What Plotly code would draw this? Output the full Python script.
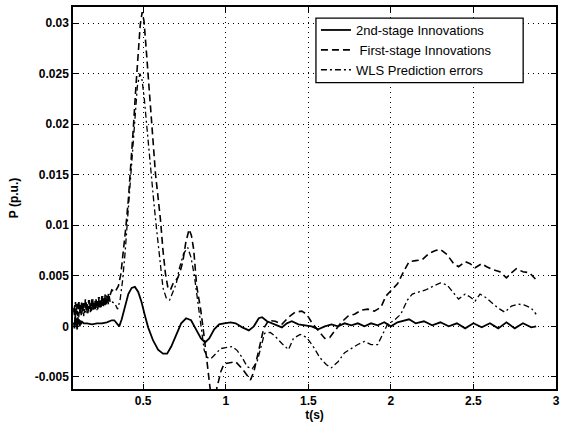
import plotly.graph_objects as go

# ---- data ----
t_solid = [0.080, 0.084, 0.088, 0.092, 0.096, 0.100, 0.104, 0.108, 0.112, 0.116, 0.120, 0.124, 0.128,
           0.14, 0.16, 0.19, 0.22, 0.25, 0.28, 0.31, 0.325, 0.34, 0.355, 0.37, 0.39, 0.41, 0.43, 0.45,
           0.47, 0.49, 0.51, 0.53, 0.56, 0.59, 0.62, 0.645, 0.67, 0.70, 0.73, 0.76, 0.79, 0.82, 0.85,
           0.875, 0.90, 0.93, 0.96, 0.99, 1.03, 1.06, 1.10, 1.14, 1.17, 1.20, 1.22, 1.25, 1.28, 1.31,
           1.34, 1.37, 1.40, 1.44, 1.48, 1.52, 1.56, 1.60, 1.64, 1.68, 1.72, 1.76, 1.80, 1.84, 1.88,
           1.92, 1.96, 2.00, 2.04, 2.08, 2.11, 2.15, 2.20, 2.25, 2.30, 2.35, 2.40, 2.45, 2.50, 2.55,
           2.60, 2.65, 2.70, 2.75, 2.80, 2.85, 2.88]
p_solid = [0.0004, -0.0002, 0.0010, 0.0001, 0.0008, -0.0003, 0.0009, 0.0002, 0.0007, 0.0000, 0.0006, 0.0002, 0.0005,
           0.0003, 0.0003, 0.0002, 0.0003, 0.0003, 0.0004, 0.0006, 0.0006, 0.0003, 0.0000, 0.0007, 0.0020, 0.0032, 0.0038, 0.0039,
           0.0034, 0.0024, 0.0011, -0.0001, -0.0014, -0.0023, -0.0027, -0.0027, -0.0020, -0.0008, 0.0003, 0.0008, 0.0006, -0.0003, -0.0012,
           -0.0016, -0.0012, -0.0003, 0.0002, 0.0003, 0.0004, 0.0003, -0.0001, -0.0004, 0.0000, 0.0008, 0.0009, 0.0005, 0.0003, 0.0001,
           -0.0001, 0.0003, 0.0005, 0.0002, 0.0001, 0.0000, -0.0003, 0.0000, 0.0002, 0.0000, 0.0003, 0.0001, 0.0003, 0.0000, 0.0003,
           0.0001, 0.0004, 0.0000, 0.0004, 0.0006, 0.0007, 0.0003, 0.0005, 0.0001, 0.0004, 0.0000, 0.0003, -0.0002, 0.0003, -0.0001,
           0.0003, -0.0002, 0.0004, -0.0002, 0.0003, -0.0001, 0.0000]

t_first = [0.080, 0.085, 0.090, 0.095, 0.100, 0.105, 0.110, 0.115, 0.120, 0.125,
           0.130, 0.135, 0.140, 0.145, 0.150, 0.155, 0.160, 0.165, 0.170, 0.175,
           0.180, 0.185, 0.190, 0.195, 0.200, 0.205, 0.210, 0.215, 0.220, 0.225,
           0.230, 0.235, 0.240, 0.245, 0.250, 0.255, 0.260, 0.265, 0.270, 0.275,
           0.280, 0.285, 0.290, 0.295, 0.300,
           0.31, 0.33, 0.35, 0.365, 0.38, 0.395, 0.41, 0.425, 0.44, 0.455, 0.47, 0.482, 0.494, 0.505,
           0.518, 0.53, 0.545, 0.56, 0.575, 0.59, 0.605, 0.62, 0.635, 0.65, 0.665, 0.68, 0.695, 0.71,
           0.725, 0.74, 0.758, 0.778, 0.792, 0.806, 0.824, 0.848, 0.866, 0.88, 0.896, 0.91, 0.93, 0.95,
           0.97, 0.99, 1.02, 1.06, 1.10, 1.13, 1.15, 1.17, 1.20, 1.23, 1.26, 1.30, 1.34, 1.38, 1.42,
           1.46, 1.49, 1.52, 1.56, 1.60, 1.63, 1.66, 1.70, 1.74, 1.78, 1.82, 1.86, 1.90, 1.94, 1.97,
           2.00, 2.04, 2.08, 2.11, 2.15, 2.19, 2.23, 2.27, 2.30, 2.34, 2.38, 2.41, 2.45, 2.48, 2.51,
           2.55, 2.58, 2.62, 2.66, 2.70, 2.73, 2.76, 2.80, 2.84, 2.88]
p_first = [0.0018, 0.0009, 0.0024, 0.0012, 0.0022, 0.0010, 0.0026, 0.0014, 0.0021, 0.0011,
           0.0025, 0.0015, 0.0023, 0.0013, 0.0027, 0.0016, 0.0022, 0.0013, 0.0026, 0.0017,
           0.0024, 0.0015, 0.0028, 0.0018, 0.0023, 0.0016, 0.0027, 0.0018, 0.0025, 0.0017,
           0.0029, 0.0019, 0.0027, 0.0019, 0.0030, 0.0021, 0.0028, 0.0021, 0.0032, 0.0023,
           0.0030, 0.0023, 0.0033, 0.0025, 0.0031,
           0.0036, 0.0034, 0.0040, 0.0052, 0.0072, 0.0098, 0.0125, 0.0158, 0.0195, 0.0235, 0.0272, 0.0298, 0.0311, 0.0302,
           0.0275, 0.0250, 0.0215, 0.0180, 0.0150, 0.0128, 0.0105, 0.0075, 0.0052, 0.0038, 0.0036, 0.0042, 0.0045, 0.0048,
           0.0055, 0.0064, 0.0083, 0.0096, 0.0090, 0.0076, 0.0040, 0.0017, -0.0006, -0.0026, -0.0052, -0.0068, -0.0072, -0.0058,
           -0.0045, -0.0037, -0.0036, -0.0035, -0.0042, -0.0049, -0.0053, -0.0045, -0.0022, -0.0002, 0.0006, 0.0005, 0.0002, 0.0009, 0.0014,
           0.0015, 0.0012, 0.0004, -0.0004, -0.0012, -0.0011, -0.0005, 0.0004, 0.0010, 0.0012, 0.0016, 0.0017, 0.0015, 0.0019, 0.0030,
           0.0035, 0.0042, 0.0055, 0.0064, 0.0065, 0.0066, 0.0072, 0.0075, 0.0076, 0.0071, 0.0062, 0.0059, 0.0064, 0.0062, 0.0058,
           0.0062, 0.0059, 0.0056, 0.0054, 0.0048, 0.0053, 0.0057, 0.0054, 0.0053, 0.0046]

t_wls = [0.080, 0.085, 0.090, 0.095, 0.100, 0.105, 0.110, 0.115, 0.120, 0.125,
         0.130, 0.135, 0.140, 0.145, 0.150, 0.155, 0.160, 0.165, 0.170, 0.175,
         0.180, 0.185, 0.190, 0.195, 0.200, 0.205, 0.210, 0.215, 0.220, 0.225,
         0.230, 0.235, 0.240, 0.245, 0.250, 0.255, 0.260, 0.265, 0.270, 0.275,
         0.280, 0.285, 0.290, 0.295, 0.300,
         0.315, 0.33, 0.345, 0.36, 0.375, 0.39, 0.405, 0.42, 0.435, 0.45, 0.465, 0.48, 0.492, 0.505,
         0.52, 0.535, 0.55, 0.565, 0.58, 0.60, 0.62, 0.64, 0.66, 0.68, 0.70, 0.72, 0.745, 0.77,
         0.79, 0.81, 0.83, 0.85, 0.87, 0.89, 0.91, 0.94, 0.97, 1.00, 1.04, 1.07, 1.10, 1.13,
         1.16, 1.19, 1.21, 1.235, 1.27, 1.30, 1.34, 1.38, 1.41, 1.45, 1.49, 1.53, 1.57, 1.61,
         1.64, 1.68, 1.72, 1.76, 1.80, 1.84, 1.88, 1.92, 1.95, 1.98, 2.02, 2.06, 2.10, 2.13,
         2.17, 2.21, 2.26, 2.30, 2.34, 2.37, 2.41, 2.45, 2.48, 2.51, 2.54, 2.58, 2.62, 2.66,
         2.69, 2.73, 2.77, 2.81, 2.85, 2.88]
p_wls = [0.0014, 0.0022, 0.0008, 0.0020, 0.0011, 0.0023, 0.0009, 0.0019, 0.0013, 0.0024,
         0.0012, 0.0021, 0.0010, 0.0022, 0.0014, 0.0025, 0.0013, 0.0021, 0.0015, 0.0026,
         0.0014, 0.0023, 0.0016, 0.0027, 0.0015, 0.0024, 0.0017, 0.0028, 0.0016, 0.0025,
         0.0018, 0.0029, 0.0018, 0.0026, 0.0019, 0.0030, 0.0020, 0.0027, 0.0021, 0.0031,
         0.0021, 0.0028, 0.0022, 0.0030, 0.0023,
         0.0024, 0.0022, 0.0017, 0.0026, 0.0045, 0.0072, 0.0105, 0.0142, 0.0180, 0.0212, 0.0238, 0.0250, 0.0245, 0.0228,
         0.0200, 0.0175, 0.0148, 0.0122, 0.0098, 0.0065, 0.0038, 0.0028, 0.0026, 0.0034, 0.0042, 0.0058, 0.0072, 0.0078,
         0.0068, 0.0050, 0.0025, -0.0002, -0.0024, -0.0031, -0.0032, -0.0027, -0.0022, -0.0021, -0.0020, -0.0024, -0.0031, -0.0040,
         -0.0042, -0.0035, -0.0022, -0.0007, -0.0006, -0.0010, -0.0017, -0.0023, -0.0012, -0.0008, -0.0011, -0.0020, -0.0031, -0.0038,
         -0.0041, -0.0035, -0.0026, -0.0022, -0.0018, -0.0015, -0.0018, -0.0018, -0.0008, 0.0002, 0.0006, 0.0012, 0.0026, 0.0032,
         0.0034, 0.0036, 0.0040, 0.0043, 0.0041, 0.0035, 0.0027, 0.0032, 0.0029, 0.0025, 0.0032, 0.0028, 0.0022, 0.0017,
         0.0014, 0.0020, 0.0022, 0.0021, 0.0018, 0.0012]

x_tickvals = [0.5, 1, 1.5, 2, 2.5, 3]
x_ticktext = ["0.5", "1", "1.5", "2", "2.5", "3"]
y_tickvals = [-0.005, 0, 0.005, 0.01, 0.015, 0.02, 0.025, 0.03]
y_ticktext = ["-0.005", "0", "0.005", "0.01", "0.015", "0.02", "0.025", "0.03"]

names = ["2nd-stage Innovations", " First-stage Innovations", "WLS Prediction errors"]

fig = go.Figure()
fig.add_trace(go.Scatter(x=t_solid, y=p_solid, mode="lines", name=names[0],
                         line=dict(color="black", width=1.8, dash="solid")))
fig.add_trace(go.Scatter(x=t_first, y=p_first, mode="lines", name=names[1],
                         line=dict(color="black", width=1.6, dash="7px,4px")))
fig.add_trace(go.Scatter(x=t_wls, y=p_wls, mode="lines", name=names[2],
                         line=dict(color="black", width=1.3, dash="6px,3px,2px,3px")))

axis_common = dict(
    showline=True, linecolor="black", linewidth=1.5, mirror="ticks",
    ticks="inside", ticklen=5, tickcolor="black", tickwidth=1,
    showgrid=True, gridcolor="black", gridwidth=1, griddash="1px,4px",
    zeroline=False,
    tickfont=dict(family="Liberation Sans", size=12, color="black", weight="bold"),
)

fig.update_xaxes(range=[0.075, 3], tickvals=x_tickvals, ticktext=x_ticktext,
                 title=dict(text="t(s)", standoff=0,
                            font=dict(family="Liberation Sans", size=12, color="black", weight="bold")),
                 **axis_common)
fig.update_yaxes(range=[-0.0062, 0.0316], tickvals=y_tickvals, ticktext=y_ticktext,
                 title=dict(text="P (p.u.)", standoff=14,
                            font=dict(family="Liberation Sans", size=12, color="black", weight="bold")),
                 **axis_common)

# legend frame (white box with black border), as in the reference
fig.add_shape(type="rect", xref="paper", yref="paper",
              x0=0.503, x1=0.932, y0=0.802, y1=0.971,
              fillcolor="white", line=dict(color="black", width=1.3), layer="above")

fig.update_layout(
    width=565, height=422,
    margin=dict(l=73, r=5, t=7, b=33),
    paper_bgcolor="white", plot_bgcolor="white",
    showlegend=True,
    legend=dict(x=0.503, y=0.979, xanchor="left", yanchor="top",
                bgcolor="rgba(0,0,0,0)", borderwidth=0,
                font=dict(family="Liberation Sans", size=13, color="black"),
                itemwidth=30, tracegroupgap=0),
)

fig.write_html("out.html", config={"displayModeBar": False},
               post_script="document.body.style.margin='0';document.body.style.padding='0';")
